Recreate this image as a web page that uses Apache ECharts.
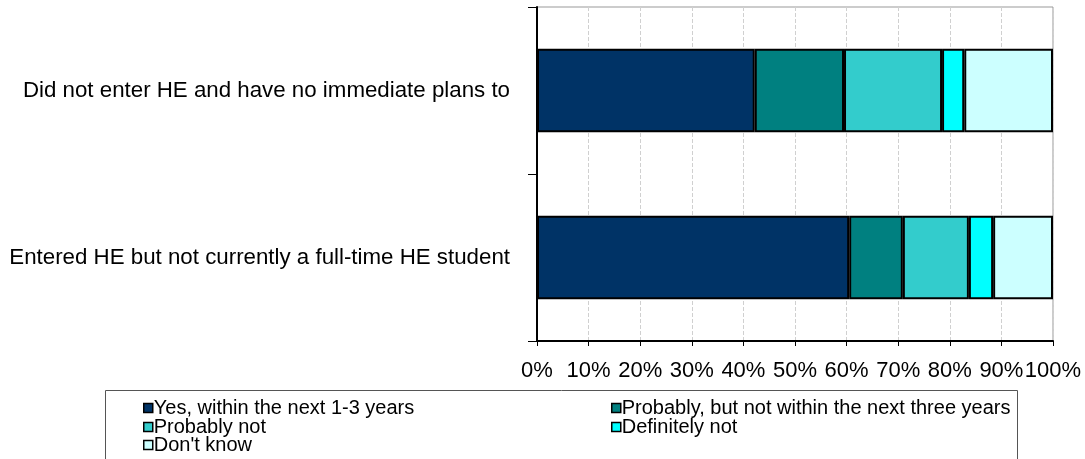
<!DOCTYPE html>
<html>
<head>
<meta charset="utf-8">
<script src="https://cdn.jsdelivr.net/npm/echarts@6/dist/echarts.min.js"></script>
<style>
  html, body { margin: 0; padding: 0; background: #fff; }
  #chart { width: 1085px; height: 459px; }
</style>
</head>
<body>
<div id="chart"></div>
<script>
var categories = ['Entered HE but not currently a full-time HE student', 'Did not enter HE and have no immediate plans to'];
var seriesNames = ['Yes, within the next 1-3 years', 'Probably, but not within the next three years', 'Probably not', 'Definitely not', "Don't know"];
var yesSoon = [60.5, 42.2];
var probablyLater = [10.4, 17.3];
var probablyNot = [12.8, 19.0];
var definitelyNot = [4.7, 4.3];
var dontKnow = [11.6, 17.2];
var xTicks = ['0%', '10%', '20%', '30%', '40%', '50%', '60%', '70%', '80%', '90%', '100%'];

var colors = ['#003366', '#008080', '#33CCCC', '#00FFFF', '#CCFFFF'];
var seriesData = [yesSoon, probablyLater, probablyNot, definitelyNot, dontKnow];

// legend grid: two columns, items read left to right
var legendPos = [[143, 398], [611, 398], [143, 417], [611, 417], [143, 435]];

var chartDom = document.getElementById('chart');
var myChart = echarts.init(chartDom);

var series = seriesData.map(function (d, i) {
    return {
        name: seriesNames[i],
        type: 'bar',
        stack: 'total',
        barWidth: '50%',
        itemStyle: {
            color: colors[i],
            borderColor: '#000',
            borderWidth: 2
        },
        data: d
    };
});

var legends = seriesNames.map(function (name, i) {
    return {
        left: legendPos[i][0],
        top: legendPos[i][1],
        padding: 0,
        itemWidth: 9,
        itemHeight: 9,
        icon: 'rect',
        itemStyle: { borderColor: '#000', borderWidth: 1.5 },
        textStyle: {
            fontFamily: 'Liberation Sans, Arial, sans-serif',
            fontSize: 20,
            lineHeight: 18,
            color: '#000',
            padding: [0, 0, 0, -4]
        },
        data: [name],
        selectedMode: false
    };
});

var option = {
    animation: false,
    textStyle: { fontFamily: 'Liberation Sans, Arial, sans-serif' },
    grid: {
        left: 537,
        right: 32,
        top: 7,
        bottom: 118,
        show: true,
        borderColor: '#999',
        borderWidth: 1
    },
    legend: legends,
    graphic: [
        {
            type: 'rect',
            shape: { x: 105.5, y: 390.5, width: 912, height: 80 },
            style: { fill: 'none', stroke: '#555', lineWidth: 1 },
            silent: true
        }
    ],
    xAxis: {
        type: 'value',
        min: 0,
        max: 100,
        interval: 10,
        axisLine: { show: true, lineStyle: { color: '#000', width: 2 } },
        axisTick: { show: true, length: 5, lineStyle: { color: '#000' } },
        axisLabel: {
            margin: 19,
            fontSize: 22,
            color: '#000',
            formatter: function (v) { return xTicks[Math.round(v / 10)]; }
        },
        splitLine: { show: true, lineStyle: { color: '#d0d0d0', type: 'dashed', width: 1 } }
    },
    yAxis: {
        type: 'category',
        data: categories,
        axisLine: { show: true, lineStyle: { color: '#000', width: 2 } },
        axisTick: { show: true, length: 9, lineStyle: { color: '#000' } },
        axisLabel: {
            margin: 27,
            fontSize: 22.3,
            color: '#000'
        }
    },
    series: series
};
myChart.setOption(option);
</script>
</body>
</html>
